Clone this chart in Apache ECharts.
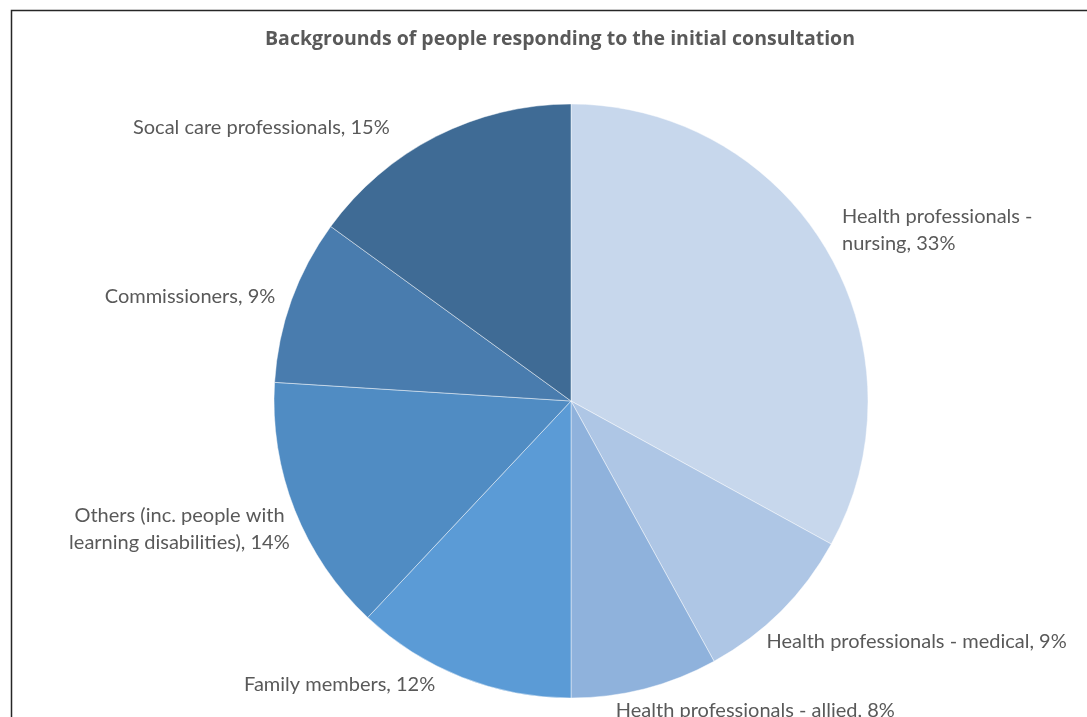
<!DOCTYPE html>
<html>
<head>
<meta charset="utf-8">
<script src="https://cdn.jsdelivr.net/npm/echarts@6/dist/echarts.min.js"></script>
<style>html,body{margin:0;padding:0;background:#fff}#c{width:1087px;height:717px}</style>
</head>
<body>
<div id="c"></div>
<script>
const titleText = 'Backgrounds of people responding to the initial consultation';
const categories = [
  'Health professionals - nursing',
  'Health professionals - medical',
  'Health professionals - allied',
  'Family members',
  'Others (inc. people with learning disabilities)',
  'Commissioners',
  'Socal care professionals'
];
const values = [33, 9, 8, 12, 14, 9, 15];
const colors = ['#C7D7EC', '#AEC6E5', '#8FB2DC', '#5B9BD6', '#508CC3', '#497CAE', '#3F6B95'];
const wrapWidths = [225, null, null, null, 250, null, null];
// label nudges (Excel-style placement of outside-end labels)
const labelShift = [[-4, -14], [-32, 22], [-41, 10], [-13, -4], [15, 14], [4, 0], [-32, 2]];

const chart = echarts.init(document.getElementById('c'), null, {renderer: 'canvas'});
const FONT = 'Lato, "Open Sans", sans-serif';
chart.setOption({
  animation: false,
  backgroundColor: '#fff',
  title: {
    text: titleText,
    left: 555, top: 24, textAlign: 'center',
    textStyle: {fontFamily: '"Open Sans", sans-serif', fontSize: 19.5, fontWeight: 'bold', color: '#595959'}
  },
  graphic: [{
    type: 'rect', shape: {x: 11.5, y: 10.5, width: 1200, height: 800},
    style: {fill: 'none', stroke: '#262626', lineWidth: 1.5}, silent: true
  }],
  series: [{
    type: 'pie',
    center: [571, 401],
    radius: 297,
    startAngle: 90,
    clockwise: true,
    avoidLabelOverlap: false,
    itemStyle: {borderColor: 'rgba(255,255,255,0.45)', borderWidth: 1},
    label: {
      show: true, position: 'outside',
      fontFamily: FONT, fontSize: 20, color: '#595959', lineHeight: 27,
      formatter: p => p.name + ', ' + p.value + '%'
    },
    labelLine: {show: false, length: 12, length2: 4},
    labelLayout: p => ({dx: labelShift[p.dataIndex][0], dy: labelShift[p.dataIndex][1]}),
    data: categories.map((n, i) => {
      const d = {name: n, value: values[i], itemStyle: {color: colors[i]}};
      if (wrapWidths[i]) d.label = {width: wrapWidths[i], overflow: 'break'};
      return d;
    })
  }]
});
</script>
</body>
</html>
